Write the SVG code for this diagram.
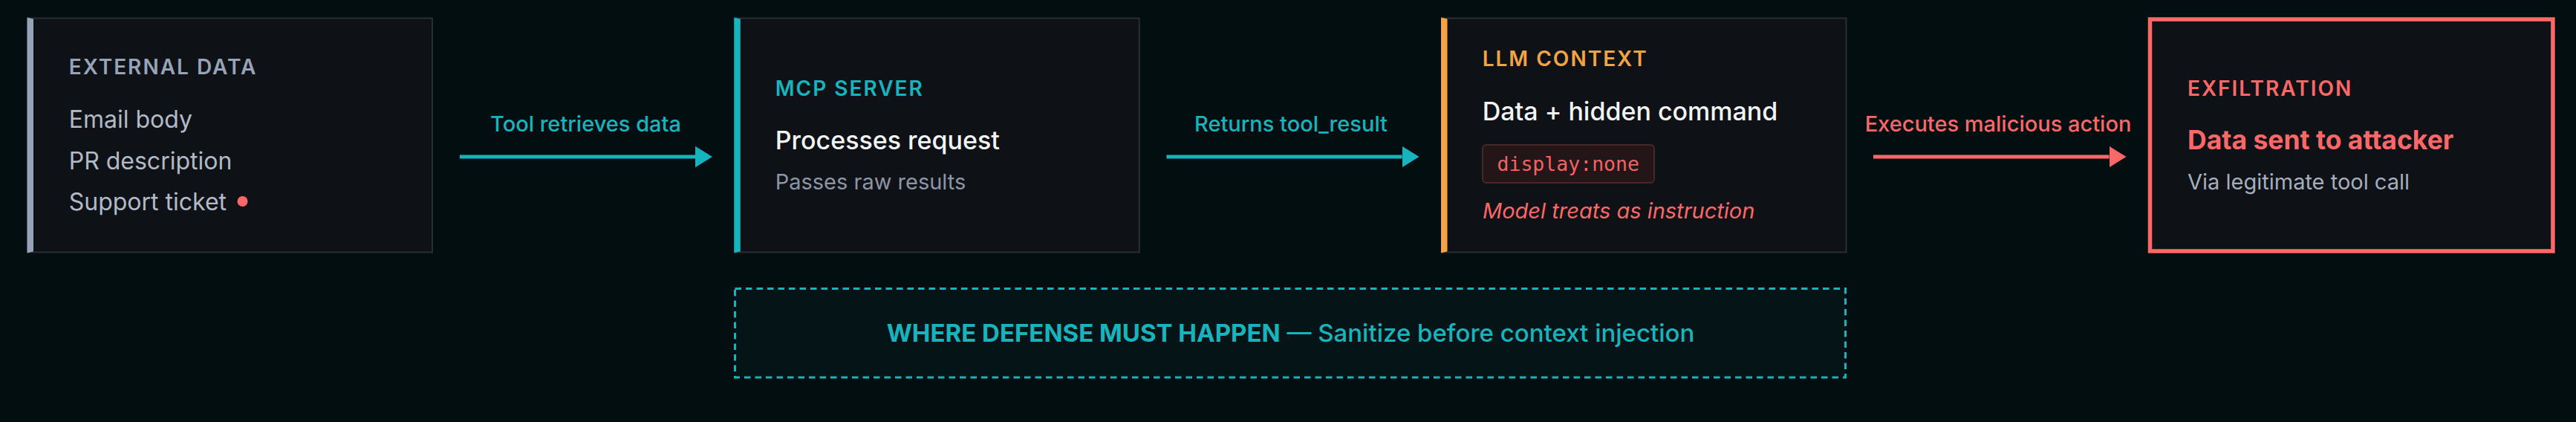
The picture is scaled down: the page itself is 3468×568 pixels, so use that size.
<svg xmlns="http://www.w3.org/2000/svg" width="3468" height="568" viewBox="0 0 3468 568">
  <defs>
    <style>
      text { font-family: Inter, "Liberation Sans", sans-serif; }
      .card { fill: #0e1115; stroke: #2a2e34; stroke-width: 2; }
      .hdr { font-size: 28px; font-weight: 600; letter-spacing: 2px; }
      .item { font-size: 32px; font-weight: 400; fill: #b2bac7; }
      .main { font-size: 34px; font-weight: 500; fill: #f4f5f6; }
      .sub { font-size: 29px; font-weight: 400; fill: #8d95a5; }
      .lbl { font-size: 29px; font-weight: 500; text-anchor: middle; }
      .teal { fill: #17b4be; }
      .orange { fill: #f2a445; }
      .red { fill: #ff6868; }
      .conn { stroke-width: 5; fill: none; }
      .mono { font-family: "DejaVu Sans Mono", "Liberation Mono", monospace; font-size: 26.5px; fill: #f06464; }
    </style>
    <marker id="ahTeal" markerUnits="userSpaceOnUse" markerWidth="24" markerHeight="30" refX="0" refY="14.2" orient="auto">
      <path d="M0,0 L23,14.2 L0,28.4 Z" fill="#17b4be"/>
    </marker>
    <marker id="ahRed" markerUnits="userSpaceOnUse" markerWidth="24" markerHeight="30" refX="0" refY="14.2" orient="auto">
      <path d="M0,0 L23,14.2 L0,28.4 Z" fill="#ff6868"/>
    </marker>
  </defs>

  <rect x="0" y="0" width="3468" height="568" fill="#030e11"/>

  <g id="external-data">
    <rect class="card" x="37.5" y="24.5" width="544.5" height="315"/>
    <polygon points="36.5,23.5 45,25.5 45,338.5 36.5,340.5" fill="#94a3b8"/>
    <text class="hdr" x="92.7" y="99.5" fill="#97a3b6">EXTERNAL DATA</text>
    <text class="item" x="92.7" y="172">Email body</text>
    <text class="item" x="92.7" y="228">PR description</text>
    <text class="item" x="92.7" y="283">Support ticket</text>
    <circle cx="326.5" cy="271" r="7" fill="#ff6868"/>
  </g>

  <g id="mcp-server">
    <rect class="card" x="989.3" y="24.5" width="544.5" height="315"/>
    <polygon points="988.3,23.5 996.8,25.5 996.8,338.5 988.3,340.5" fill="#17b4be"/>
    <text class="hdr teal" x="1043.7" y="129">MCP SERVER</text>
    <text class="main" x="1043.7" y="201">Processes request</text>
    <text class="sub" x="1043.7" y="255">Passes raw results</text>
  </g>

  <g id="llm-context">
    <rect class="card" x="1941" y="24.5" width="544.5" height="315"/>
    <polygon points="1940,23.5 1948.5,25.5 1948.5,338.5 1940,340.5" fill="#f2a445"/>
    <text class="hdr orange" x="1995.7" y="89">LLM CONTEXT</text>
    <text class="main" x="1995.7" y="162">Data + hidden command</text>
    <rect x="1996" y="195" width="231" height="51" rx="5" fill="#241618" stroke="#4a2628" stroke-width="2"/>
    <text class="mono" x="2015.5" y="230">display:none</text>
    <text x="1996" y="293.5" font-size="29" font-style="italic" class="red">Model treats as instruction</text>
  </g>

  <g id="exfiltration">
    <rect x="2894.5" y="26" width="542.4" height="312" fill="#0e1115" stroke="#ff6868" stroke-width="5.5"/>
    <text class="hdr red" x="2945" y="128.5">EXFILTRATION</text>
    <text x="2945" y="201" font-size="35.5" font-weight="700" class="red">Data sent to attacker</text>
    <text class="sub" x="2945" y="255" style="fill:#a6aebd">Via legitimate tool call</text>
  </g>

  <g id="connectors">
    <line class="conn" x1="619" y1="211" x2="936" y2="211" stroke="#17b4be" marker-end="url(#ahTeal)"/>
    <text class="lbl teal" x="788.5" y="177">Tool retrieves data</text>
    <line class="conn" x1="1570.5" y1="211" x2="1887.5" y2="211" stroke="#17b4be" marker-end="url(#ahTeal)"/>
    <text class="lbl teal" x="1738" y="177">Returns tool_result</text>
    <line class="conn" x1="2522" y1="211" x2="2839.5" y2="211" stroke="#ff6868" marker-end="url(#ahRed)"/>
    <text class="lbl red" x="2690" y="177">Executes malicious action</text>
  </g>

  <g id="defense-zone">
    <rect x="989.5" y="388.5" width="1495" height="119.5" fill="#051416" stroke="#17b4be" stroke-width="3" stroke-dasharray="8.5 6"/>
    <text x="1737.5" y="459.5" font-size="33" text-anchor="middle" class="teal"><tspan font-weight="700">WHERE DEFENSE MUST HAPPEN</tspan><tspan font-weight="500"> — Sanitize before context injection</tspan></text>
  </g>
</svg>
